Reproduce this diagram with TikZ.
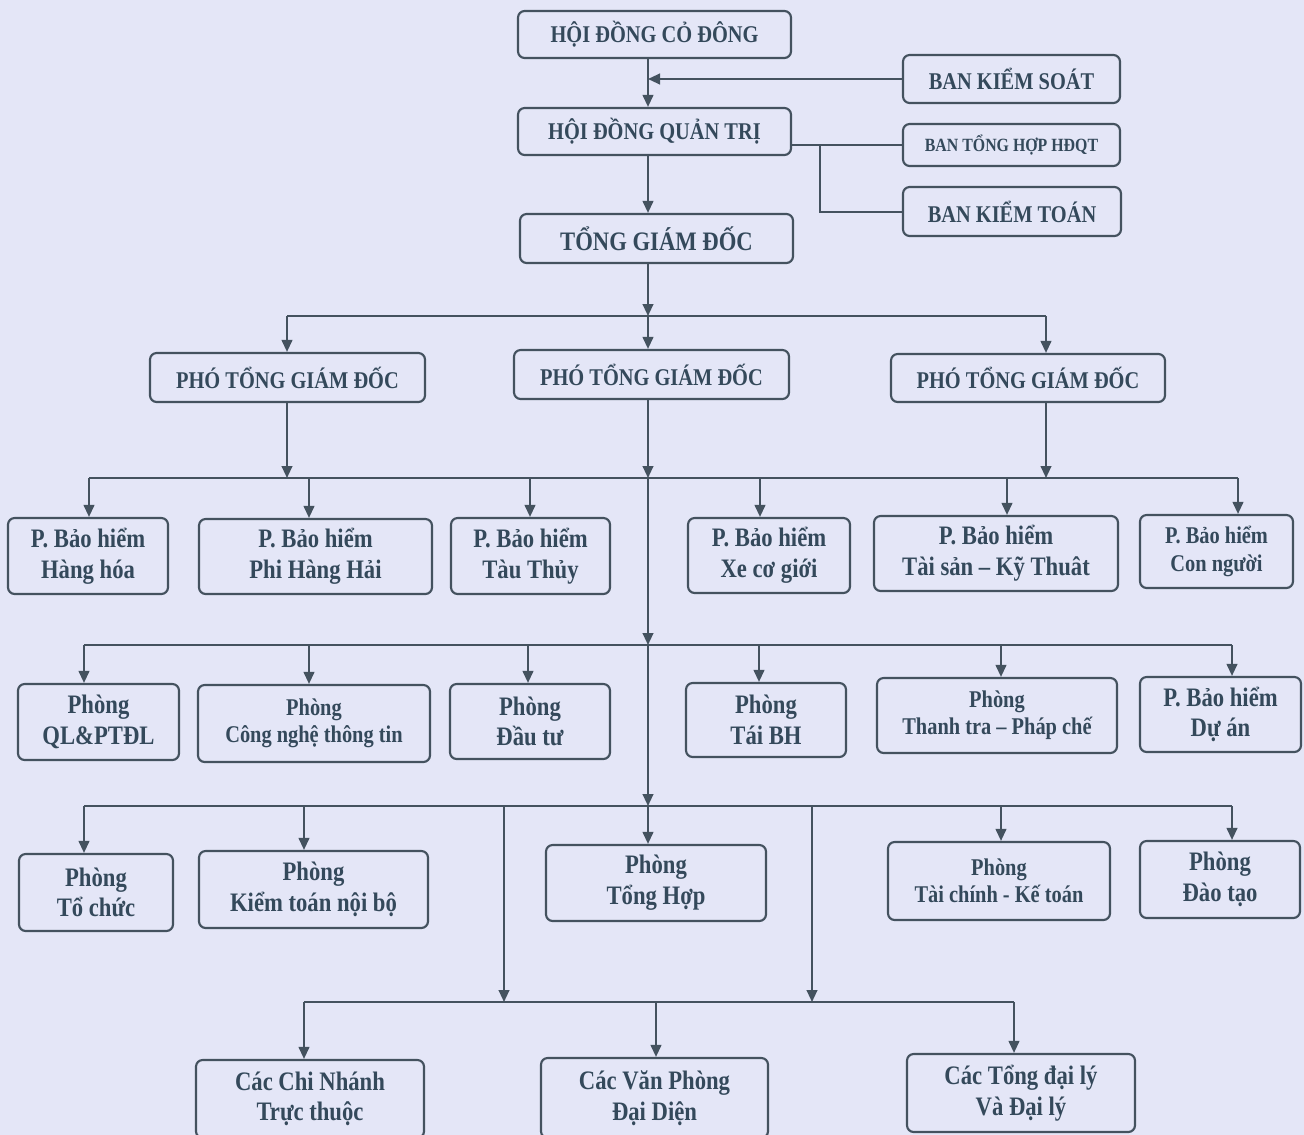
\documentclass[tikz,border=0pt]{standalone}
\usepackage{fontspec}
\setmainfont{Liberation Serif}
\newfontfamily\cond{Liberation Serif}[FakeStretch=0.85]
\usetikzlibrary{arrows.meta}
\definecolor{bg}{HTML}{E4E6F7}
\definecolor{ln}{HTML}{44525F}
\definecolor{tx}{HTML}{34495B}
\tikzset{
 box/.style={draw=ln, line width=1.6pt, rounded corners=5pt, inner sep=0pt, align=center, text=tx, font=\cond\bfseries\fontsize{20}{23}\selectfont},
 fB/.style={font=\cond\bfseries\fontsize{18}{20.5}\selectfont},
 fC/.style={font=\cond\bfseries\fontsize{14}{17}\selectfont},
 conn/.style={draw=ln, line width=1.5pt},
 arr/.style={conn, -{Triangle[length=9pt,width=8pt]}},
}
\newcommand\bx[7][]{\node[box,#1,minimum width={(#5-#3)*0.75pt},minimum height={(#6-#4)*0.75pt}] (#2) at ({(#3+#5)/2},{(#4+#6)/2}) {#7};}
\begin{document}
\begin{tikzpicture}[x=0.75pt,y=-0.75pt]
\useasboundingbox (0,0) rectangle (1304,1135);
\clip (0,0) rectangle (1304,1135);
\fill[bg] (0,0) rectangle (1304,1135);
% coordinates
\coordinate (sp) at (648,0);
\coordinate (br) at (820,0);
\coordinate (b0) at (0,316);
\coordinate (b1) at (0,478);
\coordinate (b2) at (0,645);
\coordinate (b3) at (0,806);
\coordinate (b4) at (0,1002);
% top
\bx[fB]{hdcd}{518}{11}{791}{58}{HỘI ĐỒNG CỎ ĐÔNG}
\bx[fB]{bks}{903}{55}{1120}{103}{BAN KIỂM SOÁT}
\bx[fB]{hdqt}{518}{108}{791}{155}{HỘI ĐỒNG QUẢN TRỊ}
\bx[fC]{bth}{903}{124}{1120}{166}{BAN TỔNG HỢP HĐQT}
\bx[fB]{bkt}{903}{187}{1121}{236}{BAN KIỂM TOÁN}
\bx{tgd}{520}{214}{793}{263}{TỔNG GIÁM ĐỐC}
\bx[fB]{p1}{150}{353}{425}{402}{PHÓ TỔNG GIÁM ĐỐC}
\bx[fB]{p2}{514}{350}{789}{399}{PHÓ TỔNG GIÁM ĐỐC}
\bx[fB]{p3}{891}{354}{1165}{402}{PHÓ TỔNG GIÁM ĐỐC}
% row 1
\bx{hh}{8}{518}{168}{594}{P. Bảo hiểm\\Hàng hóa}
\bx{phh}{199}{519}{432}{594}{P. Bảo hiểm\\Phi Hàng Hải}
\bx{tt}{451}{518}{610}{594}{P. Bảo hiểm\\Tàu Thủy}
\bx{xe}{688}{518}{850}{593}{P. Bảo hiểm\\Xe cơ giới}
\bx{ts}{874}{516}{1118}{591}{P. Bảo hiểm\\Tài sản – Kỹ Thuât}
\bx[fB]{cng}{1140}{515}{1293}{588}{P. Bảo hiểm\\Con người}
% row 2
\bx{ql}{18}{684}{179}{760}{Phòng\\QL\&PTĐL}
\bx[fB]{it}{198}{685}{430}{762}{Phòng\\Công nghệ thông tin}
\bx{dt}{450}{684}{610}{759}{Phòng\\Đầu tư}
\bx{tbh}{686}{683}{846}{757}{Phòng\\Tái BH}
\bx[fB]{ttpc}{877}{678}{1117}{753}{Phòng\\Thanh tra – Pháp chế}
\bx{da}{1140}{677}{1301}{752}{P. Bảo hiểm\\Dự án}
% row 3
\bx{tc}{19}{854}{173}{931}{Phòng\\Tổ chức}
\bx{ktnb}{199}{851}{428}{928}{Phòng\\Kiểm toán nội bộ}
\bx{th}{546}{845}{766}{921}{Phòng\\Tổng Hợp}
\bx[fB]{tckt}{888}{842}{1110}{920}{Phòng\\Tài chính - Kế toán}
\bx{dtao}{1140}{841}{1300}{918}{Phòng\\Đào tạo}
% bottom
\bx{cn}{196}{1060}{424}{1138}{Các Chi Nhánh\\Trực thuộc}
\bx{vp}{541}{1058}{768}{1138}{Các Văn Phòng\\Đại Diện}
\bx{dl}{907}{1054}{1135}{1132}{Các Tổng đại lý\\Và Đại lý}
% drop coordinates
\coordinate (q1) at (287,0);
\coordinate (q3) at (1046,0);
\coordinate (d11) at (89,0);
\coordinate (d12) at (309,0);
\coordinate (d13) at (530,0);
\coordinate (d14) at (760,0);
\coordinate (d15) at (1007,0);
\coordinate (d16) at (1238,0);
\coordinate (d21) at (84,0);
\coordinate (d22) at (309,0);
\coordinate (d23) at (528,0);
\coordinate (d24) at (759,0);
\coordinate (d25) at (1001,0);
\coordinate (d26) at (1232,0);
\coordinate (d31) at (84,0);
\coordinate (d32) at (304,0);
\coordinate (d34) at (1001,0);
\coordinate (d35) at (1232,0);
\coordinate (v1) at (504,0);
\coordinate (v2) at (812,0);
\coordinate (d41) at (304,0);
\coordinate (d42) at (656,0);
\coordinate (d43) at (1014,0);
% top connectors
\draw[arr] (hdcd.south -| sp) -- (hdqt.north -| sp);
\draw[arr] (bks.west) -- (bks.west -| sp);
\draw[conn] (bth.west) -- (bth.west -| hdqt.east);
\draw[conn] (bth.west -| br) -- (bkt.west -| br) -- (bkt.west);
\draw[arr] (hdqt.south -| sp) -- (tgd.north -| sp);
\draw[arr] (tgd.south -| sp) -- (sp |- b0);
\draw[conn] (q1 |- b0) -- (q3 |- b0);
\draw[arr] (q1 |- b0) -- (q1 |- p1.north);
\draw[arr] (sp |- b0) -- (sp |- p2.north);
\draw[arr] (q3 |- b0) -- (q3 |- p3.north);
% level 1
\draw[arr] (q1 |- p1.south) -- (q1 |- b1);
\draw[arr] (q3 |- p3.south) -- (q3 |- b1);
\draw[arr] (sp |- p2.south) -- (sp |- b1);
\draw[conn] (d11 |- b1) -- (d16 |- b1);
\draw[arr] (d11 |- b1) -- (d11 |- hh.north);
\draw[arr] (d12 |- b1) -- (d12 |- phh.north);
\draw[arr] (d13 |- b1) -- (d13 |- tt.north);
\draw[arr] (d14 |- b1) -- (d14 |- xe.north);
\draw[arr] (d15 |- b1) -- (d15 |- ts.north);
\draw[arr] (d16 |- b1) -- (d16 |- cng.north);
% level 2
\draw[arr] (sp |- b1) -- (sp |- b2);
\draw[conn] (d21 |- b2) -- (d26 |- b2);
\draw[arr] (d21 |- b2) -- (d21 |- ql.north);
\draw[arr] (d22 |- b2) -- (d22 |- it.north);
\draw[arr] (d23 |- b2) -- (d23 |- dt.north);
\draw[arr] (d24 |- b2) -- (d24 |- tbh.north);
\draw[arr] (d25 |- b2) -- (d25 |- ttpc.north);
\draw[arr] (d26 |- b2) -- (d26 |- da.north);
% level 3
\draw[arr] (sp |- b2) -- (sp |- b3);
\draw[conn] (d31 |- b3) -- (d35 |- b3);
\draw[arr] (d31 |- b3) -- (d31 |- tc.north);
\draw[arr] (d32 |- b3) -- (d32 |- ktnb.north);
\draw[arr] (sp |- b3) -- (sp |- th.north);
\draw[arr] (d34 |- b3) -- (d34 |- tckt.north);
\draw[arr] (d35 |- b3) -- (d35 |- dtao.north);
\draw[arr] (v1 |- b3) -- (v1 |- b4);
\draw[arr] (v2 |- b3) -- (v2 |- b4);
% level 4
\draw[conn] (d41 |- b4) -- (d43 |- b4);
\draw[arr] (d41 |- b4) -- (d41 |- cn.north);
\draw[arr] (d42 |- b4) -- (d42 |- vp.north);
\draw[arr] (d43 |- b4) -- (d43 |- dl.north);
\end{tikzpicture}
\end{document}
